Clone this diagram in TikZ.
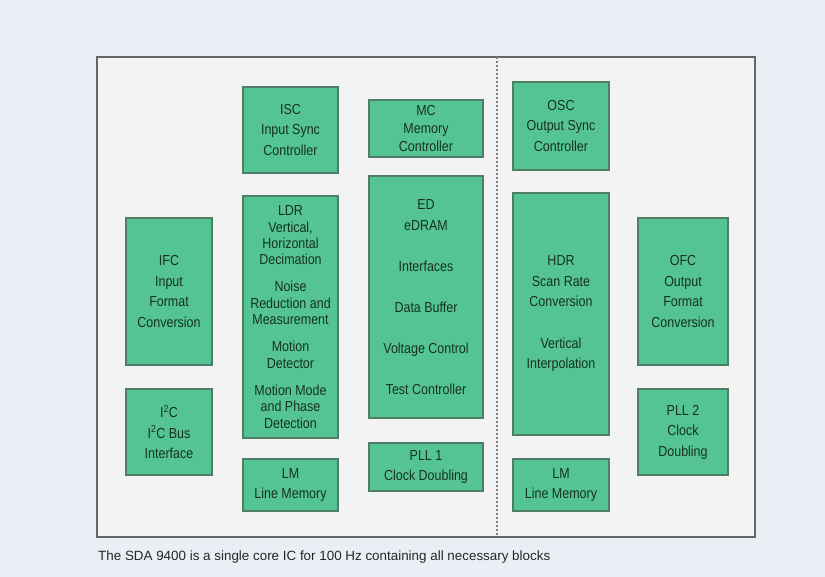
\documentclass[tikz,border=0pt]{standalone}
\usepackage{fontspec}
\setmainfont[FakeStretch=0.86]{Liberation Sans}
\newfontfamily\capfont{Liberation Sans}
\usepackage{tikz}
\definecolor{blkgreen}{HTML}{55C495}
\definecolor{blkedge}{HTML}{4E7E66}
\definecolor{blktext}{HTML}{16321F}
\definecolor{outerbg}{HTML}{E9EFF5}
\definecolor{panelbg}{HTML}{F3F3F3}
\tikzset{
  blk/.style={draw=blkedge,line width=1.3pt,fill=blkgreen,text=blktext,align=center,inner sep=0pt,
    font=\fontsize{14.5}{20.5}\selectfont},
  tight/.style={font=\fontsize{14.5}{16.3}\selectfont}
}
\begin{document}
\begin{tikzpicture}[x=1pt,y=-1pt]
\useasboundingbox (0,0) rectangle (825,577);
\fill[outerbg] (0,0) rectangle (825,577);
\draw[gray!80!black,line width=1.1pt,fill=panelbg] (97,57) rectangle (755,537);
\draw[gray,line width=1.4pt,dash pattern=on 2pt off 2pt] (497,57) -- (497,537);
\node[blk,minimum width=95,minimum height=86] (isc) at (290.5,130) {ISC\\Input Sync\\Controller};
\node[blk,font=\fontsize{14.5}{18}\selectfont,minimum width=114,minimum height=57] (mc) at (426,128.5) {MC\\Memory\\Controller};
\node[blk,minimum width=96,minimum height=88] (osc) at (561,126) {OSC\\Output Sync\\Controller};
\node[blk,tight,minimum width=95,minimum height=242] (ldr) at (290.5,317) {LDR\\Vertical,\\Horizontal\\Decimation\\[11pt]Noise\\Reduction and\\Measurement\\[11pt]Motion\\Detector\\[11pt]Motion Mode\\and Phase\\Detection};
\node[blk,minimum width=114,minimum height=242] (ed) at (426,297) {ED\\eDRAM\\[21pt]Interfaces\\[20pt]Data Buffer\\[21pt]Voltage Control\\[20pt]Test Controller};
\node[blk,minimum width=96,minimum height=242] (hdr) at (561,314) {HDR\\Scan Rate\\Conversion\\[21pt]Vertical\\Interpolation};
\node[blk,minimum width=86,minimum height=147] (ifc) at (169,291.5) {IFC\\Input\\Format\\Conversion};
\node[blk,minimum width=90,minimum height=147] (ofc) at (683,291.5) {OFC\\Output\\Format\\Conversion};
\node[blk,minimum width=86,minimum height=86] (iic) at (169,432) {I\textsuperscript{2}C\\I\textsuperscript{2}C Bus\\Interface};
\node[blk,minimum width=90,minimum height=86] (pll2) at (683,432) {PLL 2\\Clock\\Doubling};
\node[blk,minimum width=95,minimum height=52] (lmin) at (290.5,485) {LM\\Line Memory};
\node[blk,minimum width=114,minimum height=48] (pll1) at (426,467) {PLL 1\\Clock Doubling};
\node[blk,minimum width=96,minimum height=52] (lmout) at (561,485) {LM\\Line Memory};
\node[anchor=west,inner sep=0pt,font=\capfont\fontsize{13.4}{15}\selectfont,text=black!85] (cap) at (98,557) {The SDA 9400 is a single core IC for 100 Hz containing all necessary blocks};
\end{tikzpicture}
\end{document}
